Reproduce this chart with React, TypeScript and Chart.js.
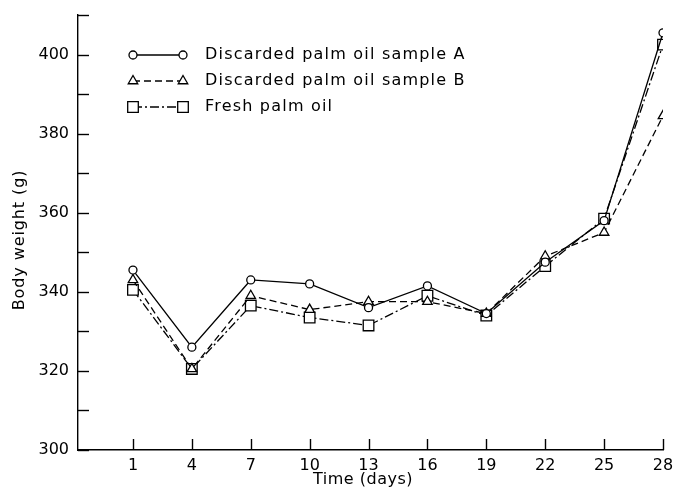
import React, { useEffect, useRef } from 'react';
import { Chart, registerables } from 'chart.js';

Chart.register(...registerables);

const days = [1, 4, 7, 10, 13, 16, 19, 22, 25, 28];
const sampleA = [345.5, 326, 343, 342, 336, 341.5, 334.5, 347.5, 358, 405.5];
const sampleB = [343, 320.5, 339, 335.5, 337.5, 337.5, 334.5, 349, 355, 384.5];
const freshOil = [340.5, 320.5, 336.5, 333.5, 331.5, 339, 334, 346.5, 358.5, 402.5];
const seriesLabels = [
  'Discarded palm oil sample A',
  'Discarded palm oil sample B',
  'Fresh palm oil',
];
const yTickValues = [300, 310, 320, 330, 340, 350, 360, 370, 380, 390, 400, 410];
const yLabelValues = [300, 320, 340, 360, 380, 400];
const xTickValues = [1, 4, 7, 10, 13, 16, 19, 22, 25, 28];
const xTitle = 'Time (days)';
const yTitle = 'Body weight (g)';

const FONT = '"DejaVu Sans", sans-serif';

function drawMarker(ctx: CanvasRenderingContext2D, style: string, r: number, x: number, y: number) {
  ctx.save();
  ctx.setLineDash([]);
  ctx.beginPath();
  if (style === 'circle') {
    ctx.arc(x, y, r, 0, Math.PI * 2);
  } else if (style === 'triangle') {
    const h = r * 1.5;
    const w = r * Math.sqrt(3);
    ctx.moveTo(x, y - r);
    ctx.lineTo(x + w / 2, y - r + h);
    ctx.lineTo(x - w / 2, y - r + h);
    ctx.closePath();
  } else {
    const s = r * Math.SQRT1_2;
    ctx.rect(x - s, y - s, 2 * s, 2 * s);
  }
  ctx.fillStyle = '#fff';
  ctx.fill();
  ctx.strokeStyle = '#000';
  ctx.lineWidth = 1.3;
  ctx.stroke();
  ctx.restore();
}

const tickAndLegendPlugin = {
  id: 'tickAndLegend',
  afterDraw(chart: any) {
    const ctx: CanvasRenderingContext2D = chart.ctx;
    const area = chart.chartArea;
    const xs = chart.scales.x;
    const ys = chart.scales.y;
    ctx.save();
    ctx.strokeStyle = '#000';
    ctx.lineWidth = 1.4;
    ctx.setLineDash([]);
    // y ticks pointing inward
    yTickValues.forEach((v) => {
      const y = Math.round(ys.getPixelForValue(v)) + 0.5;
      ctx.beginPath();
      ctx.moveTo(area.left, y);
      ctx.lineTo(area.left + 11, y);
      ctx.stroke();
    });
    // x ticks pointing inward
    xTickValues.forEach((v) => {
      const x = Math.round(xs.getPixelForValue(v)) + 0.5;
      ctx.beginPath();
      ctx.moveTo(x, area.bottom);
      ctx.lineTo(x, area.bottom - 11);
      ctx.stroke();
    });
    // axis titles
    ctx.fillStyle = '#000';
    ctx.font = '16px ' + FONT;
    ctx.textAlign = 'center';
    ctx.textBaseline = 'middle';
    (ctx as any).letterSpacing = '0.5px';
    ctx.fillText(xTitle, 363, 480);
    (ctx as any).letterSpacing = '0.9px';
    ctx.save();
    ctx.translate(20, 240);
    ctx.rotate(-Math.PI / 2);
    ctx.fillText(yTitle, 0, 0);
    ctx.restore();
    // legend
    const rowsY = [55, 81, 107];
    chart.data.datasets.forEach((ds: any, i: number) => {
      const y = rowsY[i];
      const x1 = 133;
      const x2 = 183;
      ctx.save();
      ctx.strokeStyle = '#000';
      ctx.lineWidth = 1.3;
      ctx.setLineDash(ds.borderDash || []);
      ctx.beginPath();
      ctx.moveTo(x1, y);
      ctx.lineTo(x2, y);
      ctx.stroke();
      ctx.restore();
      const r = ds.pointStyle === 'circle' ? 4 : ds.pointStyle === 'triangle' ? 5.5 : 7.5;
      drawMarker(ctx, ds.pointStyle, r, x1, y);
      drawMarker(ctx, ds.pointStyle, r, x2, y);
      ctx.fillStyle = '#000';
      ctx.font = '16px ' + FONT;
      ctx.textBaseline = 'middle';
      ctx.textAlign = 'left';
      (ctx as any).letterSpacing = '1.2px';
      ctx.fillText(ds.label, 205, y);
    });
    (ctx as any).letterSpacing = '0px';
    ctx.restore();
  },
};

export default function App() {
  const ref = useRef<HTMLCanvasElement | null>(null);
  useEffect(() => {
    if (!ref.current) return;
    const mk = (vals: number[]) => days.map((d, i) => ({ x: d, y: vals[i] }));
    const common = {
      borderColor: '#000',
      borderWidth: 1.3,
      pointBackgroundColor: '#fff',
      pointBorderColor: '#000',
      pointBorderWidth: 1.3,
      fill: false,
      tension: 0,
    };
    const chart = new Chart(ref.current, {
      type: 'line',
      data: {
        datasets: [
          {
            ...common,
            label: seriesLabels[0],
            data: mk(sampleA),
            pointStyle: 'circle',
            pointRadius: 4,
            borderDash: [],
          },
          {
            ...common,
            label: seriesLabels[1],
            data: mk(sampleB),
            pointStyle: 'triangle',
            pointRadius: 5.5,
            borderDash: [7, 4],
          },
          {
            ...common,
            label: seriesLabels[2],
            data: mk(freshOil),
            pointStyle: 'rect',
            pointRadius: 7.5,
            borderDash: [9, 3, 2, 3],
          },
        ] as any,
      },
      options: {
        animation: false,
        responsive: false,
        devicePixelRatio: 1,
        layout: { padding: { top: 15, right: 14, left: 0, bottom: 0 } },
        plugins: {
          legend: { display: false },
          tooltip: { enabled: false },
        },
        scales: {
          x: {
            type: 'linear',
            min: -1.8,
            max: 28,
            afterBuildTicks: (s: any) => {
              s.ticks = xTickValues.map((v) => ({ value: v }));
            },
            afterFit: (s: any) => {
              s.height = 44;
              s.paddingRight = 0;
              s.paddingLeft = 0;
            },
            grid: { display: false, drawTicks: false },
            border: { display: true, color: '#000', width: 1.4 },
            ticks: {
              color: '#000',
              font: { family: FONT, size: 16 },
              padding: 6,
              maxRotation: 0,
              autoSkip: false,
            },
            title: { display: false },
          },
          y: {
            type: 'linear',
            min: 300,
            max: 410,
            afterBuildTicks: (s: any) => {
              s.ticks = yTickValues.map((v) => ({ value: v }));
            },
            afterFit: (s: any) => {
              s.width = 78;
              s.paddingTop = 0;
              s.paddingBottom = 0;
            },
            grid: { display: false, drawTicks: false },
            border: { display: true, color: '#000', width: 1.4 },
            ticks: {
              color: '#000',
              font: { family: FONT, size: 16 },
              padding: 9,
              autoSkip: false,
              callback: (v: any) => (yLabelValues.includes(Number(v)) ? String(v) : ''),
            },
            title: { display: false },
          },
        },
      },
      plugins: [tickAndLegendPlugin],
    });
    return () => chart.destroy();
  }, []);
  return (
    <div style={{ position: 'fixed', left: 0, top: 0, width: 677, height: 494, background: '#fff' }}>
      <canvas ref={ref} width={677} height={494} />
    </div>
  );
}
